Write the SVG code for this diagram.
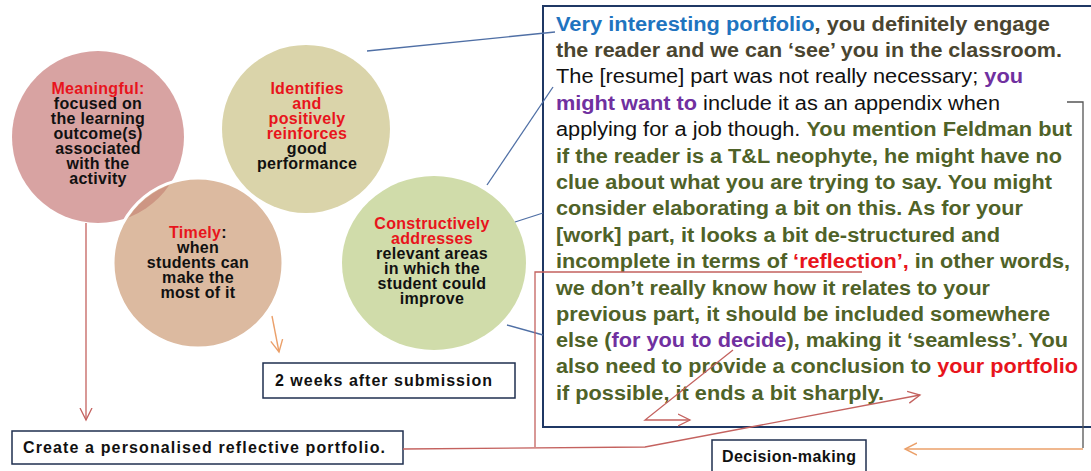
<svg xmlns="http://www.w3.org/2000/svg" width="1091" height="471" viewBox="0 0 1091 471">
<defs>
<style>
.ct{font-family:"Liberation Sans",Arial,sans-serif;font-weight:bold;font-size:16px;letter-spacing:0.3px;text-anchor:middle;fill:#111}
.r{fill:#e8141c}
.bx{fill:#fff;stroke:#1f2f4f;stroke-width:1.5}
.bt{font-family:"Liberation Sans",Arial,sans-serif;font-weight:bold;font-size:16px;fill:#111}
.mt{font-family:"Liberation Sans",Arial,sans-serif;font-size:20px;font-weight:bold;fill:#4f6228}
.bl{fill:#1f74bf}
.dk{fill:#4a4530}
.bk{fill:#111;font-weight:normal}
.pu{fill:#7030a0}
.rd{fill:#e8141c}
.pk{fill:none;stroke:#c4625f;stroke-width:1.3}
.or{fill:none;stroke:#eba06a;stroke-width:1.4}
.bll{fill:none;stroke:#4f6fa5;stroke-width:1.3}
.gy{fill:none;stroke:#555;stroke-width:1.3}
</style>
<marker id="ap" markerUnits="userSpaceOnUse" markerWidth="16" markerHeight="16" refX="12" refY="6" orient="auto" viewBox="0 0 16 12">
<path d="M0,0 L12,6 L0,12" fill="none" stroke="#c4625f" stroke-width="1.3"/>
</marker>
<marker id="ao" markerUnits="userSpaceOnUse" markerWidth="16" markerHeight="16" refX="12" refY="6" orient="auto" viewBox="0 0 16 12">
<path d="M0,0 L12,6 L0,12" fill="none" stroke="#eba06a" stroke-width="1.4"/>
</marker>
<clipPath id="tclip"><circle cx="198" cy="263" r="83"/></clipPath>
</defs>
<rect width="1091" height="471" fill="#fff"/>

<g id="meaningful">
<circle cx="98" cy="137" r="86" fill="#d8a3a2"/>
<text class="ct"><tspan x="98" y="94" class="r">Meaningful:</tspan><tspan x="98" y="109">focused on</tspan><tspan x="98" y="124">the learning</tspan><tspan x="98" y="139">outcome(s)</tspan><tspan x="98" y="154">associated</tspan><tspan x="98" y="169">with the</tspan><tspan x="98" y="184">activity</tspan></text>
</g>

<g id="identifies">
<circle cx="306" cy="129" r="84" fill="#dad4aa"/>
<text class="ct"><tspan x="307" y="94" class="r">Identifies</tspan><tspan x="307" y="109" class="r">and</tspan><tspan x="307" y="124" class="r">positively</tspan><tspan x="307" y="139" class="r">reinforces</tspan><tspan x="307" y="154">good</tspan><tspan x="307" y="169">performance</tspan></text>
</g>

<g id="timely">
<circle cx="198" cy="263" r="85" fill="#dcbaa0" stroke="#fff" stroke-width="3"/>
<circle cx="98" cy="137" r="86" fill="#cd9683" clip-path="url(#tclip)"/>
<text class="ct"><tspan x="198" y="238" class="r">Timely</tspan><tspan>:</tspan><tspan x="198" y="253">when</tspan><tspan x="198" y="268">students can</tspan><tspan x="198" y="283">make the</tspan><tspan x="198" y="298">most of it</tspan></text>
</g>

<g id="constructively">
<ellipse cx="434" cy="263" rx="92" ry="87" fill="#d0dcaa"/>
<text class="ct"><tspan x="432" y="229" class="r">Constructively</tspan><tspan x="432" y="244" class="r">addresses</tspan><tspan x="432" y="259">relevant areas</tspan><tspan x="432" y="274">in which the</tspan><tspan x="432" y="289">student could</tspan><tspan x="432" y="304">improve</tspan></text>
</g>

<g id="create">
<rect class="bx" x="12" y="431" width="391" height="33"/>
<text class="bt" x="23" y="453" textLength="362" lengthAdjust="spacing">Create a personalised reflective portfolio.</text>
</g>

<g id="weeks">
<rect class="bx" x="263" y="363" width="252" height="35"/>
<text class="bt" x="275" y="386" textLength="217" lengthAdjust="spacing">2 weeks after submission</text>
</g>

<g id="decision">
<rect class="bx" x="712" y="440" width="154" height="40"/>
<text class="bt" x="722" y="462" textLength="134" lengthAdjust="spacing">Decision-making</text>
</g>

<g id="feedback">
<rect x="543" y="6" width="560" height="421" fill="#fff" stroke="#1f3864" stroke-width="2"/>
<text class="mt" x="556" y="31" textLength="494" lengthAdjust="spacingAndGlyphs"><tspan class="bl">Very interesting portfolio</tspan><tspan class="dk">, you definitely engage</tspan></text>
<text class="mt dk" x="556" y="57" textLength="506" lengthAdjust="spacingAndGlyphs">the reader and we can ‘see’ you in the classroom.</text>
<text class="mt" x="556" y="83" textLength="467" lengthAdjust="spacingAndGlyphs"><tspan class="bk">The [resume] part was not really necessary; </tspan><tspan class="pu">you</tspan></text>
<text class="mt" x="556" y="110" textLength="444" lengthAdjust="spacingAndGlyphs"><tspan class="pu">might want to</tspan><tspan class="bk"> include it as an appendix when</tspan></text>
<text class="mt" x="556" y="136" textLength="516" lengthAdjust="spacingAndGlyphs"><tspan class="bk">applying for a job though. </tspan><tspan>You mention Feldman but</tspan></text>
<text class="mt" x="556" y="163" textLength="506" lengthAdjust="spacingAndGlyphs">if the reader is a T&amp;L neophyte, he might have no</text>
<text class="mt" x="556" y="189" textLength="496" lengthAdjust="spacingAndGlyphs">clue about what you are trying to say. You might</text>
<text class="mt" x="556" y="215" textLength="467" lengthAdjust="spacingAndGlyphs">consider elaborating a bit on this. As for your</text>
<text class="mt" x="556" y="242" textLength="444" lengthAdjust="spacingAndGlyphs">[work] part, it looks a bit de-structured and</text>
<text class="mt" x="556" y="268" textLength="514" lengthAdjust="spacingAndGlyphs">incomplete in terms of <tspan class="rd">‘reflection’,</tspan> in other words,</text>
<text class="mt" x="556" y="295" textLength="434" lengthAdjust="spacingAndGlyphs">we don’t really know how it relates to your</text>
<text class="mt" x="556" y="321" textLength="494" lengthAdjust="spacingAndGlyphs">previous part, it should be included somewhere</text>
<text class="mt" x="556" y="347" textLength="512" lengthAdjust="spacingAndGlyphs">else (<tspan class="pu">for you to decide</tspan>), making it ‘seamless’. You</text>
<text class="mt" x="556" y="373" textLength="522" lengthAdjust="spacingAndGlyphs">also need to provide a conclusion to <tspan class="rd">your portfolio</tspan></text>
<text class="mt" x="556" y="400" textLength="328" lengthAdjust="spacingAndGlyphs">if possible, it ends a bit sharply.</text>
</g>

<g id="connectors">
<line class="bll" x1="367" y1="51" x2="555" y2="32"/>
<line class="bll" x1="487" y1="185" x2="553" y2="87"/>
<line class="bll" x1="515" y1="222" x2="543" y2="213"/>
<line class="bll" x1="507" y1="325" x2="543" y2="335"/>
<line class="pk" x1="86" y1="223" x2="86" y2="420" marker-end="url(#ap)"/>
<polyline class="pk" points="403,449 645,447 920,395" marker-end="url(#ap)"/>
<polyline class="pk" points="535,447 535,272 862,272"/>
<polyline class="pk" points="733,350 645,420 690,420" marker-end="url(#ap)"/>
<line class="or" x1="272" y1="316" x2="279" y2="352" marker-end="url(#ao)"/>
<polyline class="gy" points="1067,102 1083,102 1083,448"/>
<line class="or" x1="1083" y1="449" x2="905" y2="449" marker-end="url(#ao)"/>
</g>
</svg>
